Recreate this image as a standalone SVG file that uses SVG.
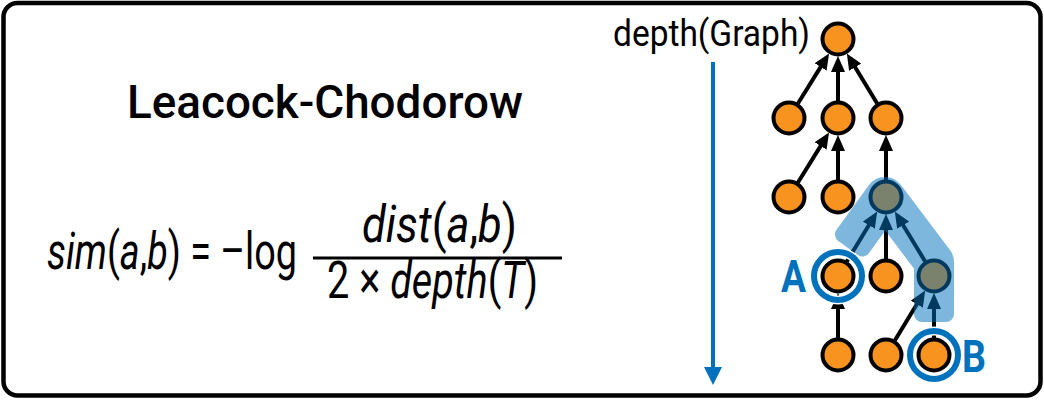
<svg xmlns="http://www.w3.org/2000/svg" width="1044" height="400" viewBox="0 0 1044 400">
  <defs>
    <marker id="ah" viewBox="0 0 16 14" refX="9" refY="7" markerWidth="16" markerHeight="14" markerUnits="userSpaceOnUse" orient="auto">
      <path d="M0,0 L16,7 L0,14 Z" fill="#000"/>
    </marker>
    <marker id="ahBlue" viewBox="0 0 22 18" refX="4" refY="9" markerWidth="22" markerHeight="18" markerUnits="userSpaceOnUse" orient="auto">
      <path d="M0,0 L18,9 L0,18 Z" fill="#0072BC"/>
    </marker>
  </defs>
  <style>
    .t { font-family: Roboto, "Liberation Sans", sans-serif; fill: #000; }
    .i { font-style: italic; }
    .node { fill: #F7931E; stroke: #000; stroke-width: 4; }
    .edge { stroke: #000; stroke-width: 4; fill: none; marker-end: url(#ah); }
    .ring { fill: none; stroke: #0072BC; stroke-width: 6; }
    .ringbg { fill: none; stroke: #fff; stroke-width: 9; }
    .lbl { font-family: Roboto, "Liberation Sans", sans-serif; font-weight: bold; fill: #0072BC; font-size: 44px; }
  </style>
  <rect x="3.5" y="3" width="1037" height="392.5" rx="14" ry="14" fill="#fff" stroke="#000" stroke-width="4.5"/>

  <text class="t" x="127" y="118" font-size="47" font-weight="500" textLength="396" lengthAdjust="spacingAndGlyphs">Leacock-Chodorow</text>

  <g id="formula">
    <text class="t" x="47" y="269" font-size="52" textLength="250" lengthAdjust="spacingAndGlyphs"><tspan class="i">sim</tspan>(<tspan class="i">a</tspan>,<tspan class="i">b</tspan>) = –log</text>
    <text class="t" x="362" y="242" font-size="52" textLength="155" lengthAdjust="spacingAndGlyphs"><tspan class="i">dist</tspan>(<tspan class="i">a</tspan>,<tspan class="i">b</tspan>)</text>
    <line x1="313" y1="258" x2="562" y2="258" stroke="#000" stroke-width="3"/>
    <text class="t" x="327" y="298" font-size="52" textLength="211" lengthAdjust="spacingAndGlyphs">2 × <tspan class="i">depth</tspan>(<tspan class="i">T</tspan>)</text>
  </g>

  <text class="t" x="613" y="46" font-size="36" textLength="197" lengthAdjust="spacingAndGlyphs">depth(Graph)</text>
  <line x1="713" y1="62" x2="713" y2="371" stroke="#0072BC" stroke-width="4" marker-end="url(#ahBlue)"/>

  <g id="connectors">
    <line class="edge" x1="797.96" y1="103.55" x2="825.35" y2="59.4"/>
    <line class="edge" x1="838" y1="101" x2="838" y2="63"/>
    <line class="edge" x1="877.17" y1="103.47" x2="850.46" y2="59.5"/>
    <line class="edge" x1="797.96" y1="182.55" x2="825.35" y2="138.4"/>
    <line class="edge" x1="838" y1="180" x2="838" y2="142"/>
    <line class="edge" x1="886" y1="180" x2="886" y2="142"/>
    <line class="edge" x1="846.83" y1="261.47" x2="873.54" y2="217.5"/>
    <line class="edge" x1="886" y1="259" x2="886" y2="221"/>
    <line class="edge" x1="925.17" y1="261.47" x2="898.46" y2="217.5"/>
    <line class="edge" x1="838" y1="338" x2="838" y2="300"/>
    <line class="edge" x1="894.83" y1="340.47" x2="921.54" y2="296.5"/>
    <line class="edge" x1="934" y1="338" x2="934" y2="300"/>
  </g>

  <g id="n-root"><circle class="node" cx="838" cy="39" r="15.5"/></g>
  <g id="n-2a"><circle class="node" cx="789" cy="118" r="15.5"/></g>
  <g id="n-2b"><circle class="node" cx="838" cy="118" r="15.5"/></g>
  <g id="n-2c"><circle class="node" cx="886" cy="118" r="15.5"/></g>
  <g id="n-3a"><circle class="node" cx="789" cy="197" r="15.5"/></g>
  <g id="n-3b"><circle class="node" cx="838" cy="197" r="15.5"/></g>
  <g id="n-3c"><circle class="node" cx="886" cy="197" r="15.5"/></g>
  <g id="n-4a"><circle class="node" cx="838" cy="276" r="15.5"/></g>
  <g id="n-4b"><circle class="node" cx="886" cy="276" r="15.5"/></g>
  <g id="n-4c"><circle class="node" cx="934" cy="276" r="15.5"/></g>
  <g id="n-5a"><circle class="node" cx="838" cy="355" r="15.5"/></g>
  <g id="n-5b"><circle class="node" cx="886" cy="355" r="15.5"/></g>
  <g id="n-5c"><circle class="node" cx="934" cy="355" r="15.5"/></g>

  <path id="path-highlight" d="M862.4,248.5 L885.2,217.1 L922,266 L922,314 L946,314 L946,262 A12,12 0 0 0 943.6,254.8 L894.6,189.8 A12,12 0 0 0 875.3,190 L843,234.5 Z" fill="#0072BC" stroke="#0072BC" stroke-width="16" stroke-linejoin="round" opacity="0.5"/>

  <g id="mark-A">
    <circle class="ringbg" cx="838" cy="276" r="24"/>
    <circle class="ring" cx="838" cy="276" r="24"/>
    <text class="lbl" x="781" y="292" textLength="25" lengthAdjust="spacingAndGlyphs">A</text>
  </g>
  <g id="mark-B">
    <circle class="ringbg" cx="934" cy="355" r="24"/>
    <circle class="ring" cx="934" cy="355" r="24"/>
    <text class="lbl" x="962" y="372" textLength="24" lengthAdjust="spacingAndGlyphs">B</text>
  </g>
</svg>
